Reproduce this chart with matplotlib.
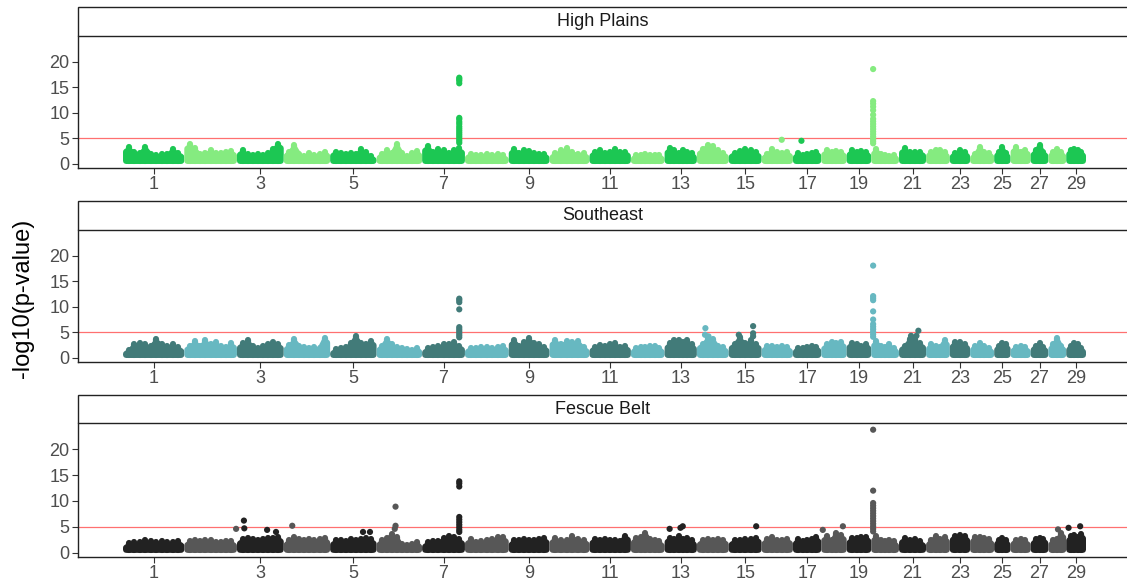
import numpy as np
import matplotlib
matplotlib.use("Agg")
import matplotlib.pyplot as plt
from matplotlib.patches import Rectangle, Polygon

plt.rcParams["font.family"] = ["Liberation Sans", "DejaVu Sans"]

# ---------------- data ----------------
chromosomes = list(range(1, 30))
chrom_len_mb = [158.5, 136.2, 121.0, 120.0, 120.1, 117.8, 110.7, 113.3, 105.5, 103.3,
                107.0, 87.2, 83.5, 82.4, 85.0, 81.0, 73.2, 65.8, 63.4, 72.0,
                69.9, 61.4, 52.5, 62.3, 42.4, 52.0, 45.6, 46.3, 51.1]
tick_labels = [str(c) for c in chromosomes[::2]]
panels = ["High Plains", "Southeast", "Fescue Belt"]
threshold = 5

# upper edge of the dense SNP cloud, read along each chromosome (-log10 p)
hp_band = [
    [3.8, 3.0, 2.8, 3.9, 2.6, 2.4, 2.5, 2.6, 3.5, 2.8],
    [4.4, 3.6, 2.6, 2.7, 3.3, 2.8, 2.7, 3.0, 3.1],
    [3.2, 2.6, 2.4, 2.5, 2.4, 2.7, 3.5, 4.5],
    [3.0, 4.2, 2.6, 2.2, 2.7, 2.4, 2.6, 3.0],
    [3.0, 2.7, 2.6, 2.8, 2.5, 3.4, 2.9, 2.2],
    [2.6, 3.3, 2.7, 4.4, 2.8, 2.2, 2.7, 3.1],
    [4.0, 3.0, 3.5, 3.2, 2.8, 3.3, 3.6],
    [2.6, 2.3, 2.4, 2.5, 2.4, 2.6, 2.3],
    [3.5, 2.8, 3.3, 3.1, 2.8, 2.5, 2.6],
    [2.7, 3.2, 3.6, 3.0, 2.6, 2.7],
    [3.0, 3.3, 2.8, 2.9, 3.4, 2.9, 3.0],
    [2.4, 2.3, 2.5, 2.4, 2.3, 2.4],
    [3.6, 3.2, 2.8, 3.3, 3.0, 2.7],
    [3.4, 4.3, 4.0, 3.2, 2.8],
    [2.8, 3.1, 3.4, 3.2, 2.9],
    [2.6, 3.4, 3.0, 2.8, 2.9],
    [2.7, 2.4, 2.6, 2.8, 3.0],
    [3.2, 3.0, 3.1, 3.0],
    [3.2, 3.0, 3.1, 3.0],
    [3.4, 2.6, 2.3, 2.1, 2.4],
    [3.6, 3.0, 2.9, 3.0],
    [3.0, 3.3, 3.2, 2.9],
    [2.8, 3.2, 2.9],
    [2.6, 3.9, 3.0, 2.8],
    [3.0, 3.8, 2.8],
    [3.8, 2.9, 3.3],
    [3.2, 4.3, 3.0],
    [3.0, 3.4, 2.9],
    [3.3, 3.4, 3.3, 3.0],
]
se_band = [
    [2.2, 3.3, 3.5, 3.2, 3.0, 4.2, 3.3, 3.0, 3.2, 2.7],
    [3.0, 3.8, 3.0, 4.0, 3.2, 3.6, 2.9, 2.8, 3.4],
    [3.4, 4.0, 3.0, 2.6, 2.9, 3.2, 3.6, 3.3],
    [3.1, 4.2, 3.0, 2.8, 2.6, 2.8, 2.5, 4.4],
    [2.3, 2.5, 2.8, 3.4, 4.8, 3.5, 3.3, 3.9],
    [3.0, 4.3, 3.2, 2.8, 2.6, 2.4, 2.2, 2.6],
    [2.5, 2.8, 3.0, 3.2, 3.3, 3.6, 3.0],
    [2.6, 2.5, 2.7, 2.8, 2.6, 2.7, 2.9],
    [4.0, 3.0, 3.6, 4.4, 3.4, 3.2, 2.8],
    [4.0, 3.3, 3.9, 3.6, 3.9, 2.7],
    [2.8, 3.1, 3.0, 3.3, 3.4, 2.8, 2.9],
    [2.6, 2.8, 2.7, 2.9, 3.0, 2.6],
    [3.4, 4.0, 4.0, 3.6, 4.0, 3.2],
    [3.3, 4.4, 4.3, 3.0, 2.7],
    [3.3, 4.6, 3.4, 4.0, 3.3],
    [2.9, 3.0, 2.8, 2.9, 2.7],
    [2.6, 2.5, 2.7, 3.0, 2.8],
    [3.2, 3.6, 3.4, 3.6],
    [3.5, 3.2, 3.0, 3.3],
    [3.8, 3.0, 2.8, 3.2, 2.6],
    [3.0, 4.2, 4.2, 3.4],
    [3.2, 2.9, 2.8, 4.0],
    [3.6, 3.6, 3.3],
    [3.0, 3.4, 2.9, 2.6],
    [3.0, 3.4, 3.2],
    [2.8, 2.9, 2.7],
    [3.0, 3.5, 2.8],
    [3.2, 4.4, 3.0],
    [3.0, 3.5, 3.2, 2.6],
]
fb_band = [
    [2.4, 2.7, 2.6, 3.0, 2.8, 2.6, 2.9, 2.6, 2.7, 2.8],
    [2.9, 3.0, 2.8, 3.0, 3.1, 2.6, 2.7, 2.9, 2.8],
    [3.2, 3.5, 3.2, 3.0, 3.3, 3.4, 3.5, 3.6],
    [3.0, 3.6, 3.2, 3.0, 3.3, 3.1, 3.2, 3.4],
    [3.0, 3.1, 2.8, 3.2, 3.0, 3.2, 3.4, 3.2],
    [3.0, 3.4, 4.3, 3.6, 2.2, 2.0, 2.3, 2.6],
    [2.6, 2.8, 2.8, 3.4, 3.8, 3.6, 3.2],
    [3.2, 2.6, 2.8, 3.0, 3.2, 3.6, 3.6],
    [3.0, 3.1, 3.3, 3.1, 3.0, 3.2, 3.4],
    [3.4, 3.1, 3.0, 3.8, 3.2, 3.1],
    [3.3, 3.0, 3.2, 3.1, 3.0, 2.9, 3.9],
    [3.4, 3.6, 4.4, 3.2, 3.0, 2.8],
    [3.5, 3.3, 3.9, 3.2, 3.4, 3.0],
    [3.0, 3.3, 3.0, 3.2, 3.1],
    [3.0, 3.1, 3.2, 3.3, 3.5],
    [3.2, 3.7, 3.0, 3.1, 3.2],
    [3.2, 2.9, 3.0, 3.2, 3.6],
    [3.8, 3.0, 4.4, 4.0],
    [3.4, 3.5, 3.6, 3.7],
    [3.8, 3.0, 2.9, 3.0, 2.8],
    [3.4, 3.0, 3.2, 2.8],
    [3.0, 3.9, 3.2, 3.6],
    [3.9, 4.0, 3.8],
    [3.6, 3.7, 3.4, 3.2],
    [3.1, 3.4, 3.0],
    [3.1, 3.3, 3.0],
    [3.2, 3.4, 3.3],
    [3.0, 3.2, 4.4],
    [3.8, 4.0, 3.6, 4.2],
]

# individual SNPs standing above the cloud: chromosome, position (Mb), -log10 p
hp_chr = [7] * 17 + [20] * 17 + [16, 17]
hp_pos = [96] * 17 + [5] * 17 + [52, 22]
hp_val = [16.9, 16.6, 16.3, 15.8, 9.0, 8.7, 8.2, 7.8, 7.3, 6.9, 6.5, 6.1, 5.7, 5.3, 4.9, 4.5, 4.1,
          18.6, 12.3, 11.8, 11.2, 10.5, 9.6, 8.8, 8.3, 7.8, 7.3, 6.8, 6.3, 5.8, 5.3, 4.8, 4.4, 4.0,
          4.7, 4.5]

se_chr = [7] * 10 + [20] * 12 + [14, 14, 14, 15, 15, 15, 15, 21, 21, 21]
se_pos = [96] * 10 + [5] * 12 + [22, 21, 30, 26, 63, 63, 63, 31, 50, 45]
se_val = [11.6, 11.3, 10.9, 9.5, 6.0, 5.6, 5.2, 4.8, 4.4, 4.0,
          18.1, 12.1, 11.7, 11.3, 9.1, 7.5, 6.6, 6.1, 5.6, 5.1, 4.6, 4.1,
          5.8, 4.5, 4.2, 4.5, 6.2, 4.8, 4.2, 4.3, 5.3, 4.3]

fb_chr = [7] * 10 + [20] * 14 + [2, 3, 3, 3, 3, 4, 5, 5, 6, 6, 6, 13, 13, 13, 15, 18, 18, 28, 29, 29]
fb_pos = [96] * 10 + [5] * 14 + [134, 18, 19, 78, 101, 22, 85, 103, 49, 49, 47, 13, 41, 47, 71, 56, 4, 25, 6, 36]
fb_val = [13.8, 13.4, 12.8, 6.9, 6.4, 5.9, 5.4, 4.9, 4.4, 4.0,
          23.8, 12.0, 9.6, 9.1, 8.6, 8.1, 7.6, 7.1, 6.6, 6.1, 5.6, 5.1, 4.6, 4.1,
          4.6, 6.2, 4.7, 4.4, 4.0, 5.2, 4.0, 4.0, 8.9, 5.2, 4.6, 4.6, 4.8, 5.1, 5.1, 5.1, 4.4, 4.5, 4.8, 5.1]

bands = [hp_band, se_band, fb_band]
peaks = [(hp_chr, hp_pos, hp_val), (se_chr, se_pos, se_val), (fb_chr, fb_pos, fb_val)]
palettes = [("#1CC753", "#85EB80"), ("#427B79", "#67B8C1"), ("#222222", "#575757")]

# ---------------- layout ----------------
W, H = 1127, 584
fig = plt.figure(figsize=(W / 100, H / 100), dpi=100)

px_left, px_right = 78, 1132
panel_px = [(36, 168), (230, 362), (423, 557)]
strip_px = [(7, 36), (201, 230), (395, 423)]

offsets = np.concatenate([[0], np.cumsum(chrom_len_mb)[:-1]])
centers = offsets + np.array(chrom_len_mb) / 2
total = float(np.sum(chrom_len_mb))
mb_per_px = total / (1086 - 123)
xlim = (-(123 - px_left) * mb_per_px, total + (px_right - 1086) * mb_per_px)
ylim = (-0.85, 25.1)

dot_px = 6.2                      # marker diameter in pixels
stroke_pt = dot_px * 72 / 100     # matching stroke width in points
r_mb = dot_px / 2 * mb_per_px     # marker radius in data x units
base_center = 0.55                # centre of lowest markers
dot_s = (dot_px * 0.72) ** 2

for p, name in enumerate(panels):
    top, bot = panel_px[p]
    ax = fig.add_axes([px_left / W, 1 - bot / H, (px_right - px_left) / W, (bot - top) / H])
    r_y = dot_px / 2 * (ylim[1] - ylim[0]) / (bot - top)   # marker radius in y units
    dark, light = palettes[p]
    for i, c in enumerate(chromosomes):
        tops = np.array(bands[p][i]) - r_y
        n = len(tops)
        L = chrom_len_mb[i]
        x0 = offsets[i] + r_mb
        x1 = offsets[i] + L - r_mb
        xs = x0 + (np.arange(n) + 0.5) / n * (x1 - x0)
        body = tops - 0.55
        verts = [(x0, base_center), (x0, body[0] - 0.3)]
        verts += list(zip(xs, body))
        verts += [(x1, body[-1] - 0.3), (x1, base_center)]
        col = dark if c % 2 == 1 else light
        poly = Polygon(verts, closed=True, facecolor=col, edgecolor=col,
                       linewidth=stroke_pt, joinstyle="round", zorder=2)
        ax.add_patch(poly)
        lc = ax.vlines(xs, base_center, tops, colors=col, linewidth=stroke_pt, zorder=2)
        lc.set_capstyle("round")
    pc, pp, pv = peaks[p]
    pc = np.array(pc)
    px = offsets[pc - 1] + np.array(pp, dtype=float)
    pcol = [dark if c % 2 == 1 else light for c in pc]
    ax.scatter(px, pv, s=dot_s, c=pcol, linewidths=0, zorder=3)

    ax.axhline(threshold, color="#FF7070", linewidth=0.9, zorder=1)

    ax.set_xlim(*xlim)
    ax.set_ylim(*ylim)
    ax.set_yticks([0, 5, 10, 15, 20])
    ax.set_xticks(centers[::2])
    ax.set_xticklabels(tick_labels)
    for s in ["top", "right"]:
        ax.spines[s].set_visible(False)
    for s in ["left", "bottom"]:
        ax.spines[s].set_color("#222222")
        ax.spines[s].set_linewidth(1.0)
    ax.tick_params(axis="both", labelsize=13, colors="#333333", labelcolor="#4D4D4D",
                   length=4, width=0.8, pad=2)
    ax.patch.set_alpha(0)

    st, sb = strip_px[p]
    fig.patches.append(Rectangle((px_left / W, 1 - sb / H), (px_right - px_left) / W, (sb - st) / H,
                                 transform=fig.transFigure, facecolor="white",
                                 edgecolor="#222222", linewidth=1.0))
    fig.text((px_left + 1049 / 2) / W, 1 - (st + sb) / 2 / H, name, ha="center", va="center",
             fontsize=13, color="#1A1A1A")

fig.text(23 / W, 1 - 298 / H, "-log10(p-value)", rotation=90, ha="center", va="center",
         fontsize=17, color="black")

fig.savefig("out.png", dpi=100)
